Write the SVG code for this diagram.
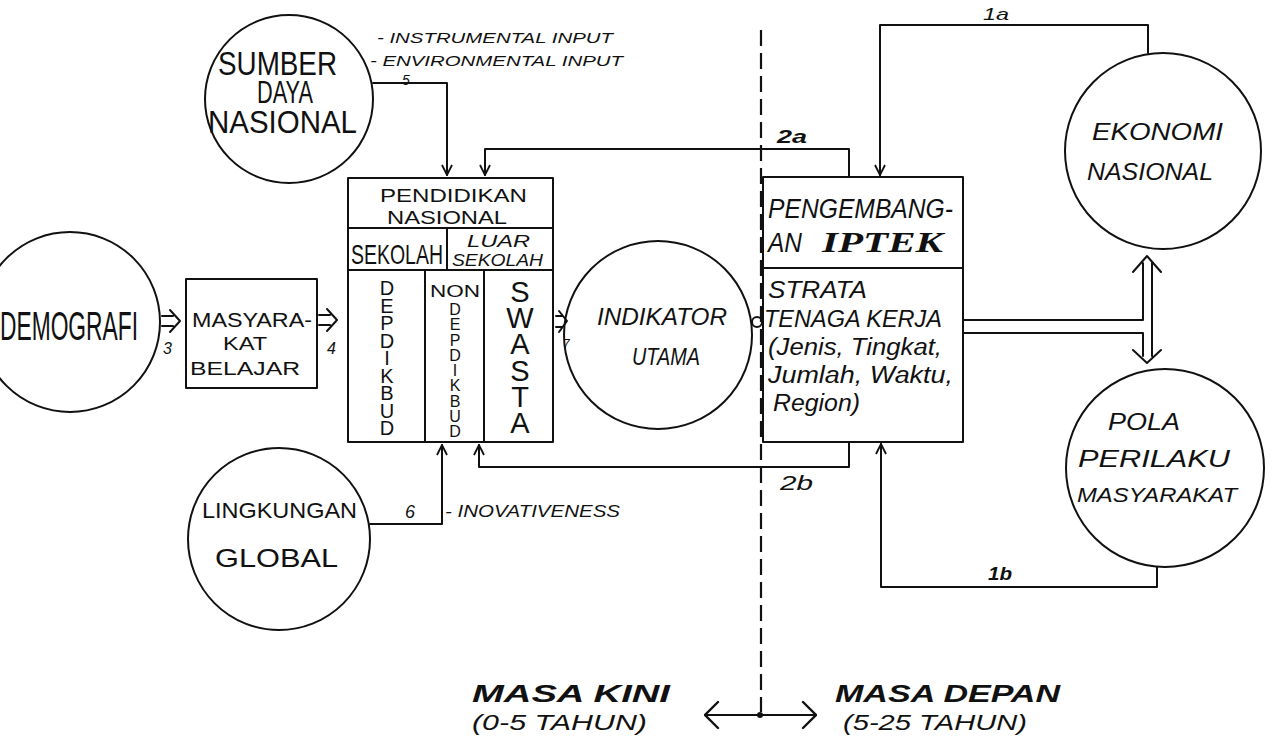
<svg xmlns="http://www.w3.org/2000/svg" width="1278" height="744" viewBox="0 0 1278 744">
<defs>
<style>
.s{fill:none;stroke:#111;stroke-width:2;stroke-linecap:round;stroke-linejoin:round}
.t{font-family:"Liberation Sans",Arial,sans-serif;fill:#111}
.i{font-style:italic}
.b{font-weight:bold}
.v{writing-mode:vertical-rl;text-orientation:upright}
.dash{fill:none;stroke:#111;stroke-width:2.2;stroke-dasharray:16 7}
</style>
<marker id="ah" viewBox="0 0 12 12" refX="11" refY="6" markerWidth="12" markerHeight="12" markerUnits="userSpaceOnUse" orient="auto">
<path d="M1,1 L11,6 L1,11" fill="none" stroke="#111" stroke-width="1.8"/>
</marker>
<marker id="ahb" viewBox="0 0 16 30" refX="15" refY="15" markerWidth="16" markerHeight="30" markerUnits="userSpaceOnUse" orient="auto-start-reverse">
<path d="M2,2 L15,15 L2,28" fill="none" stroke="#111" stroke-width="2.4" stroke-linecap="round"/>
</marker>
</defs>
<rect width="1278" height="744" fill="#fff"/>

<g id="divider">
<line class="dash" x1="761" y1="30" x2="761" y2="712"/>
</g>

<g id="sumber-daya-nasional">
<circle class="s" cx="289" cy="99" r="84"/>
<text class="t" x="218" y="75" font-size="24" transform="matrix(1,0,0,1.35,0,-26.25)" textLength="119" lengthAdjust="spacingAndGlyphs">SUMBER</text>
<text class="t" x="257" y="103" font-size="23" transform="matrix(1,0,0,1.35,0,-36.05)" textLength="56" lengthAdjust="spacingAndGlyphs">DAYA</text>
<text class="t" x="208" y="133" font-size="23" transform="matrix(1,0,0,1.35,0,-46.55)" textLength="149" lengthAdjust="spacingAndGlyphs">NASIONAL</text>
</g>

<g id="input-notes">
<text class="t i" x="377" y="43" font-size="14" textLength="236" lengthAdjust="spacingAndGlyphs">- INSTRUMENTAL INPUT</text>
<text class="t i" x="370" y="66" font-size="14" textLength="253" lengthAdjust="spacingAndGlyphs">- ENVIRONMENTAL INPUT</text>
</g>

<g id="demografi">
<circle class="s" cx="70" cy="322" r="90"/>
<text class="t" x="0" y="340" font-size="23" transform="matrix(1,0,0,1.75,0,-255)" textLength="138" lengthAdjust="spacingAndGlyphs">DEMOGRAFI</text>
</g>

<g id="masyarakat-belajar">
<rect class="s" x="186" y="279" width="131" height="109"/>
<text class="t" x="192" y="327" font-size="20" textLength="120" lengthAdjust="spacingAndGlyphs">MASYARA-</text>
<text class="t" x="223" y="350" font-size="18" textLength="44" lengthAdjust="spacingAndGlyphs">KAT</text>
<text class="t" x="190" y="375" font-size="19" textLength="110" lengthAdjust="spacingAndGlyphs">BELAJAR</text>
</g>

<g id="pendidikan-nasional">
<rect class="s" x="348" y="178" width="205" height="264"/>
<line class="s" x1="348" y1="228" x2="553" y2="228"/>
<line class="s" x1="348" y1="270" x2="553" y2="270"/>
<line class="s" x1="447" y1="228" x2="447" y2="270"/>
<line class="s" x1="425" y1="270" x2="425" y2="442"/>
<line class="s" x1="484" y1="270" x2="484" y2="442"/>
<text class="t" x="380" y="202" font-size="19" textLength="147" lengthAdjust="spacingAndGlyphs">PENDIDIKAN</text>
<text class="t" x="387" y="224" font-size="19" textLength="120" lengthAdjust="spacingAndGlyphs">NASIONAL</text>
<text class="t" x="351" y="264" font-size="19" transform="matrix(1,0,0,1.45,0,-118.8)" textLength="92" lengthAdjust="spacingAndGlyphs">SEKOLAH</text>
<text class="t i" x="467" y="247" font-size="16" textLength="63" lengthAdjust="spacingAndGlyphs">LUAR</text>
<text class="t i" x="452" y="266" font-size="16" textLength="91" lengthAdjust="spacingAndGlyphs">SEKOLAH</text>
<text class="t v" x="387" y="277" font-size="20" textLength="162" lengthAdjust="spacing">DEPDIKBUD</text>
<text class="t" x="430" y="297" font-size="17" textLength="50" lengthAdjust="spacingAndGlyphs">NON</text>
<text class="t v" x="455" y="301" font-size="16" textLength="139" lengthAdjust="spacing">DEPDIKBUD</text>
<text class="t v" x="520" y="276" font-size="29" textLength="163" lengthAdjust="spacing">SWASTA</text>
</g>

<g id="lingkungan-global">
<circle class="s" cx="279" cy="539" r="91"/>
<text class="t" x="202" y="518" font-size="22" textLength="155" lengthAdjust="spacingAndGlyphs">LINGKUNGAN</text>
<text class="t" x="215" y="567" font-size="25" textLength="123" lengthAdjust="spacingAndGlyphs">GLOBAL</text>
</g>

<g id="indikator-utama">
<circle class="s" cx="658" cy="335" r="94"/>
<text class="t i" x="597" y="325" font-size="24" textLength="130" lengthAdjust="spacingAndGlyphs">INDIKATOR</text>
<text class="t i" x="632" y="365" font-size="24" textLength="68" lengthAdjust="spacingAndGlyphs">UTAMA</text>
</g>

<g id="pengembangan-iptek">
<rect class="s" x="763" y="177" width="200" height="265"/>
<line class="s" x1="763" y1="268" x2="963" y2="268"/>
<text class="t i" x="768" y="218" font-size="27" textLength="185" lengthAdjust="spacingAndGlyphs">PENGEMBANG-</text>
<text class="t i" x="768" y="252" font-size="27" textLength="34" lengthAdjust="spacingAndGlyphs">AN</text>
<text x="822" y="252" font-family="Liberation Serif,serif" font-weight="bold" font-style="italic" font-size="30" fill="#111" textLength="121" lengthAdjust="spacingAndGlyphs">IPTEK</text>
<text class="t i" x="768" y="298" font-size="23" textLength="99" lengthAdjust="spacingAndGlyphs">STRATA</text>
<text class="t i" x="764" y="327" font-size="23" textLength="178" lengthAdjust="spacingAndGlyphs">TENAGA KERJA</text>
<text class="t i" x="768" y="355" font-size="23" textLength="174" lengthAdjust="spacingAndGlyphs">(Jenis, Tingkat,</text>
<text class="t i" x="768" y="383" font-size="23" textLength="185" lengthAdjust="spacingAndGlyphs">Jumlah, Waktu,</text>
<text class="t i" x="773" y="411" font-size="23" textLength="87" lengthAdjust="spacingAndGlyphs">Region)</text>
</g>

<g id="ekonomi-nasional">
<circle class="s" cx="1163" cy="151" r="98"/>
<text class="t i" x="1092" y="140" font-size="24" textLength="131" lengthAdjust="spacingAndGlyphs">EKONOMI</text>
<text class="t i" x="1087" y="180" font-size="24" textLength="126" lengthAdjust="spacingAndGlyphs">NASIONAL</text>
</g>

<g id="pola-perilaku-masyarakat">
<circle class="s" cx="1165" cy="468" r="99"/>
<text class="t i" x="1108" y="430" font-size="24" textLength="72" lengthAdjust="spacingAndGlyphs">POLA</text>
<text class="t i" x="1078" y="467" font-size="24" textLength="152" lengthAdjust="spacingAndGlyphs">PERILAKU</text>
<text class="t i" x="1077" y="502" font-size="20" textLength="160" lengthAdjust="spacingAndGlyphs">MASYARAKAT</text>
</g>

<g id="connectors">
<path class="s" d="M373,83 H447 V175" marker-end="url(#ah)"/>
<path class="s" d="M849,177 V149 H485 V175" marker-end="url(#ah)"/>
<path class="s" d="M1148,53 V25 H880 V175" marker-end="url(#ah)"/>
<path class="s" d="M1157,567 V587 H881 V444" marker-end="url(#ah)"/>
<path class="s" d="M849,442 V467 H479 V445" marker-end="url(#ah)"/>
<path class="s" d="M370,524 H442 V445" marker-end="url(#ah)"/>
<path class="s" d="M162,316 H173 M162,326 H173 M170,310 L180,321 L170,332"/>
<path class="s" d="M319,315 H330 M319,325 H330 M327,309 L337,320 L327,331"/>
<path class="s" d="M556,316 H562 M556,327 H562 M559,311 L567,321 L559,332"/>
<circle class="s" cx="757" cy="322" r="5"/>
<path class="s" d="M963,320 H1143 V263 M1133,272 L1147,256 L1161,272 M1152,263 V356 M963,333 H1143 V356 M1133,350 L1147,363 L1161,350"/>
<path class="s" d="M705,715 H816" marker-start="url(#ahb)" marker-end="url(#ahb)"/>
<circle cx="760" cy="715" r="3" fill="#111"/>
<text class="t i" x="402" y="85" font-size="14">5</text>
<text class="t i" x="163" y="354" font-size="16">3</text>
<text class="t i" x="327" y="354" font-size="16">4</text>
<text class="t i" x="563" y="348" font-size="12">7</text>
<text class="t i" x="405" y="518" font-size="18">6</text>
<text class="t i" x="445" y="517" font-size="16" textLength="175" lengthAdjust="spacingAndGlyphs">- INOVATIVENESS</text>
<text class="t i" x="777" y="143" font-size="18" font-weight="bold" textLength="30" lengthAdjust="spacingAndGlyphs">2a</text>
<text class="t i" x="780" y="490" font-size="20" textLength="33" lengthAdjust="spacingAndGlyphs">2b</text>
<text class="t i" x="983" y="20" font-size="17" textLength="26" lengthAdjust="spacingAndGlyphs">1a</text>
<text class="t i" x="988" y="580" font-size="18" font-weight="bold" textLength="24" lengthAdjust="spacingAndGlyphs">1b</text>
</g>

<g id="time-labels">
<text class="t i b" x="472" y="702" font-size="24" textLength="198" lengthAdjust="spacingAndGlyphs">MASA KINI</text>
<text class="t i" x="472" y="730" font-size="22" textLength="175" lengthAdjust="spacingAndGlyphs">(0-5 TAHUN)</text>
<text class="t i b" x="835" y="702" font-size="24" textLength="225" lengthAdjust="spacingAndGlyphs">MASA DEPAN</text>
<text class="t i" x="843" y="730" font-size="22" textLength="184" lengthAdjust="spacingAndGlyphs">(5-25 TAHUN)</text>
</g>
</svg>
